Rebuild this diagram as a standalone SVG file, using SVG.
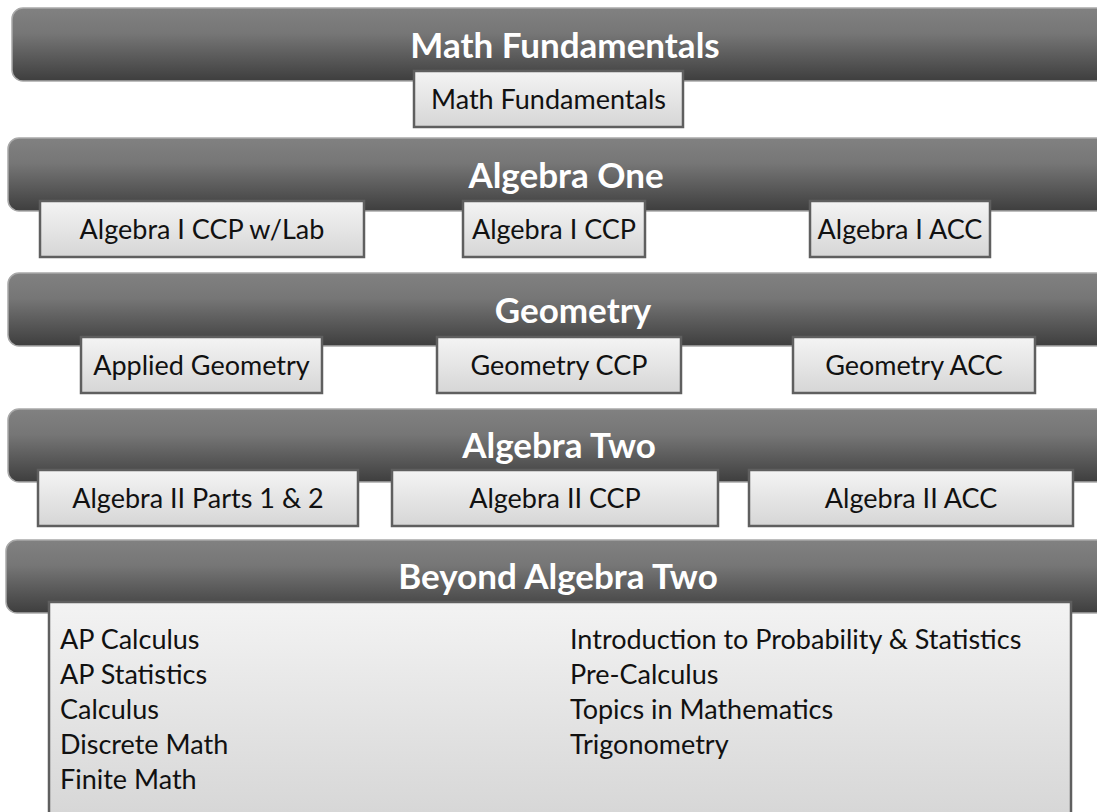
<svg xmlns="http://www.w3.org/2000/svg" width="1097" height="812" viewBox="0 0 1097 812">
<defs>
<linearGradient id="gBanner" x1="0" y1="0" x2="0" y2="1">
<stop offset="0" stop-color="#818181"/>
<stop offset="0.35" stop-color="#767676"/>
<stop offset="1" stop-color="#3e3e3e"/>
</linearGradient>
<linearGradient id="gBox" x1="0" y1="0" x2="0" y2="1">
<stop offset="0" stop-color="#f4f4f4"/>
<stop offset="1" stop-color="#d6d6d6"/>
</linearGradient>
<linearGradient id="gContent" x1="0" y1="0" x2="0" y2="1">
<stop offset="0" stop-color="#f3f3f3"/>
<stop offset="1" stop-color="#d3d3d3"/>
</linearGradient>
</defs>
<style>
.banner{fill:url(#gBanner);stroke:#a9a9a9;stroke-width:1.5}
.box{fill:url(#gBox);stroke:#5f5f5f;stroke-width:2.5}
.content{fill:url(#gContent);stroke:#5f5f5f;stroke-width:2.5}
.title{font-family:Lato,"Liberation Sans",sans-serif;font-weight:bold;font-size:35px;fill:#ffffff;text-anchor:middle}
.lbl{font-family:Lato,"Liberation Sans",sans-serif;font-size:27px;fill:#111111;text-anchor:middle}
.item{font-family:Lato,"Liberation Sans",sans-serif;font-size:27px;fill:#111111}
</style>
<rect width="1097" height="812" fill="#ffffff"/>

<g id="level-math-fundamentals">
<rect class="banner" x="12" y="8" width="1200" height="73" rx="11"/>
<text class="title" x="565" y="58">Math Fundamentals</text>
</g>
<g id="course-math-fundamentals">
<rect class="box" x="414" y="71" width="269" height="56"/>
<text class="lbl" x="548.5" y="109">Math Fundamentals</text>
</g>

<g id="level-algebra-one">
<rect class="banner" x="8" y="138" width="1200" height="73" rx="11"/>
<text class="title" x="566" y="188">Algebra One</text>
</g>
<g id="course-alg1-lab">
<rect class="box" x="40" y="201" width="324" height="56"/>
<text class="lbl" x="202" y="239">Algebra I CCP w/Lab</text>
</g>
<g id="course-alg1-ccp">
<rect class="box" x="463" y="201" width="182" height="56"/>
<text class="lbl" x="554" y="239">Algebra I CCP</text>
</g>
<g id="course-alg1-acc">
<rect class="box" x="810" y="201" width="180" height="56"/>
<text class="lbl" x="900" y="239">Algebra I ACC</text>
</g>

<g id="level-geometry">
<rect class="banner" x="8" y="273" width="1200" height="73" rx="11"/>
<text class="title" x="573" y="323">Geometry</text>
</g>
<g id="course-applied-geometry">
<rect class="box" x="81" y="337" width="241" height="56"/>
<text class="lbl" x="201.5" y="375">Applied Geometry</text>
</g>
<g id="course-geometry-ccp">
<rect class="box" x="437" y="337" width="244" height="56"/>
<text class="lbl" x="559" y="375">Geometry CCP</text>
</g>
<g id="course-geometry-acc">
<rect class="box" x="793" y="337" width="242" height="56"/>
<text class="lbl" x="914" y="375">Geometry ACC</text>
</g>

<g id="level-algebra-two">
<rect class="banner" x="8" y="409" width="1200" height="73" rx="11"/>
<text class="title" x="559" y="458">Algebra Two</text>
</g>
<g id="course-alg2-parts">
<rect class="box" x="38" y="470" width="320" height="56"/>
<text class="lbl" x="198" y="508">Algebra II Parts 1 &amp; 2</text>
</g>
<g id="course-alg2-ccp">
<rect class="box" x="392" y="470" width="326" height="56"/>
<text class="lbl" x="555" y="508">Algebra II CCP</text>
</g>
<g id="course-alg2-acc">
<rect class="box" x="749" y="470" width="324" height="56"/>
<text class="lbl" x="911" y="508">Algebra II ACC</text>
</g>

<g id="level-beyond-algebra-two">
<rect class="banner" x="6" y="540" width="1200" height="73" rx="11"/>
<text class="title" x="558" y="589">Beyond Algebra Two</text>
</g>
<g id="courses-beyond">
<rect class="content" x="49" y="602" width="1022" height="240"/>
<text class="item" x="60" y="649">AP Calculus</text>
<text class="item" x="60" y="684">AP Statistics</text>
<text class="item" x="60" y="719">Calculus</text>
<text class="item" x="60" y="754">Discrete Math</text>
<text class="item" x="60" y="789">Finite Math</text>
<text class="item" x="570" y="649">Introduction to Probability &amp; Statistics</text>
<text class="item" x="570" y="684">Pre-Calculus</text>
<text class="item" x="570" y="719">Topics in Mathematics</text>
<text class="item" x="570" y="754">Trigonometry</text>
</g>
<g id="connectors"></g>
</svg>
